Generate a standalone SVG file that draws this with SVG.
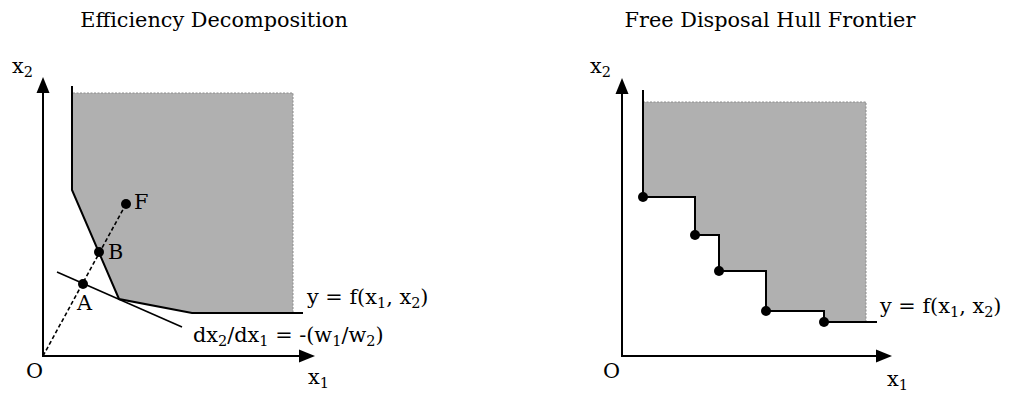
<svg xmlns="http://www.w3.org/2000/svg" width="1012" height="394" viewBox="0 0 1012 394">
  <style>
    text { font-family: "DejaVu Serif", "Liberation Serif", serif; font-size: 20.8px; fill: #000; }
    .title { text-anchor: middle; }
    .sub { font-size: 14.5px; }
    .axis { fill: none; stroke: #000; stroke-width: 2; stroke-linejoin: miter; marker-start: url(#arrow); marker-end: url(#arrow); }
    .front { fill: none; stroke: #000; stroke-width: 2; stroke-linejoin: miter; }
    .shade { fill: #b0b0b0; stroke: none; }
    .edge { fill: none; stroke: #8c8c8c; stroke-width: 1; stroke-dasharray: 2 1.5; }
    .thin { fill: none; stroke: #000; stroke-width: 1.6; }
    .dash { fill: none; stroke: #000; stroke-width: 1.6; stroke-dasharray: 4 2.5; }
    .pt { fill: #000; }
  </style>
  <defs>
    <marker id="arrow" markerUnits="userSpaceOnUse" viewBox="0 -7 17 14" markerWidth="17" markerHeight="14" refX="0" refY="0" orient="auto-start-reverse">
      <path d="M0,-6.5 L16,0 L0,6.5 z" fill="#000"/>
    </marker>
  </defs>

  <!-- Left panel: Efficiency Decomposition -->
  <g id="left-panel">
    <text class="title" x="214" y="27">Efficiency Decomposition</text>
    <g id="left-region">
      <polygon class="shade" points="73,93 293,93 293,313 192,313 119,299 72,190 72,93"/>
      <polyline class="edge" points="73,93 293,93 293,313"/>
    </g>
    <g id="left-connectors">
      <path class="axis" d="M43,93 L43,356 L299,356"/>
      <polyline class="front" points="72,86 72,190 119,299 192,313 303,313"/>
      <line class="thin" x1="57" y1="272" x2="182" y2="327"/>
      <line class="dash" x1="43" y1="356" x2="126" y2="204"/>
    </g>
    <g id="point-F"><circle class="pt" cx="126" cy="204" r="5"/><text x="134" y="209">F</text></g>
    <g id="point-B"><circle class="pt" cx="99" cy="252" r="5"/><text x="108" y="259">B</text></g>
    <g id="point-A"><circle class="pt" cx="83" cy="284" r="5"/><text x="77" y="310">A</text></g>
    <text x="12" y="73">x<tspan class="sub" dy="4">2</tspan></text>
    <text x="26" y="378">O</text>
    <text x="308" y="384">x<tspan class="sub" dy="4">1</tspan></text>
    <text x="307" y="304">y = f(x<tspan class="sub" dy="4">1</tspan><tspan dy="-4">, x</tspan><tspan class="sub" dy="4">2</tspan><tspan dy="-4">)</tspan></text>
    <text x="193" y="342">dx<tspan class="sub" dy="4">2</tspan><tspan dy="-4">/dx</tspan><tspan class="sub" dy="4">1</tspan><tspan dy="-4"> = -(w</tspan><tspan class="sub" dy="4">1</tspan><tspan dy="-4">/w</tspan><tspan class="sub" dy="4">2</tspan><tspan dy="-4">)</tspan></text>
  </g>

  <!-- Right panel: Free Disposal Hull Frontier -->
  <g id="right-panel">
    <text class="title" x="770" y="27">Free Disposal Hull Frontier</text>
    <g id="right-region">
      <polygon class="shade" points="643,102 866,102 866,322 824,322 824,311 766,311 766,271 719,271 719,235 695,235 695,197 643,197"/>
      <polyline class="edge" points="643,102 866,102 866,322"/>
    </g>
    <g id="right-connectors">
      <path class="axis" d="M622,94 L622,356 L876,356"/>
      <polyline class="front" points="643,90 643,197 695,197 695,235 719,235 719,271 766,271 766,311 824,311 824,322 877,322"/>
    </g>
    <g id="dmu-1"><circle class="pt" cx="643" cy="197" r="5"/></g>
    <g id="dmu-2"><circle class="pt" cx="695" cy="235" r="5"/></g>
    <g id="dmu-3"><circle class="pt" cx="719" cy="271" r="5"/></g>
    <g id="dmu-4"><circle class="pt" cx="766" cy="311" r="5"/></g>
    <g id="dmu-5"><circle class="pt" cx="824" cy="322" r="5"/></g>
    <text x="590" y="73">x<tspan class="sub" dy="4">2</tspan></text>
    <text x="603" y="378">O</text>
    <text x="887" y="386">x<tspan class="sub" dy="4">1</tspan></text>
    <text x="880" y="313">y = f(x<tspan class="sub" dy="4">1</tspan><tspan dy="-4">, x</tspan><tspan class="sub" dy="4">2</tspan><tspan dy="-4">)</tspan></text>
  </g>
</svg>
